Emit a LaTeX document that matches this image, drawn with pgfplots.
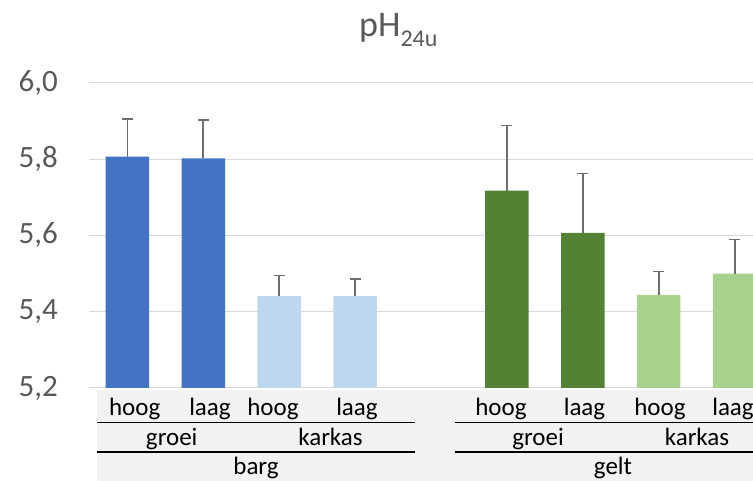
\documentclass[border=0pt]{standalone}
\usepackage{fontspec}
\setmainfont{Carlito}
\usepackage{pgfplots}
\usepackage{pgfplotstable}
\pgfplotsset{compat=1.18}
\definecolor{cBlue}{HTML}{4472C4}
\definecolor{cLBlue}{HTML}{BDD7EE}
\definecolor{cGreen}{HTML}{548235}
\definecolor{cLGreen}{HTML}{A9D18E}
\definecolor{gridgray}{HTML}{D9D9D9}
\definecolor{txtgray}{HTML}{595959}
\definecolor{errgray}{HTML}{6E6E6E}
\definecolor{bandgray}{HTML}{F2F2F2}
\pgfplotstableread{
x y e
0 5.807 0.099
1 5.802 0.101
}\bargGroei
\pgfplotstableread{
x y e
2 5.441 0.054
3 5.441 0.045
}\bargKarkas
\pgfplotstableread{
x y e
5 5.718 0.171
6 5.607 0.155
}\geltGroei
\pgfplotstableread{
x y e
7 5.444 0.062
8 5.500 0.090
}\geltKarkas
\pgfplotsset{errs/.style={error bars/.cd, y dir=plus, y explicit,
    error bar style={line width=1.8pt, draw=errgray, solid},
    error mark options={rotate=90, line width=1.5pt, draw=errgray, mark size=5.5pt}}}
\begin{document}
\begin{tikzpicture}[x=1pt,y=1pt]
\clip (0,0) rectangle (753,481);
\fill[bandgray] (97,0) rectangle (753,91);
\begin{axis}[
  at={(89.5pt,93pt)}, anchor=south west,
  scale only axis, width=663.5pt, height=305pt,
  xmin=-0.5, xmax=8.242, ymin=5.2, ymax=6.0,
  axis line style={draw=none},
  tick style={draw=none},
  xtick=\empty,
  ytick={5.2,5.4,5.6,5.8,6.0},
  ymajorgrids,
  grid style={draw=gridgray, line width=1pt},
  yticklabel style={/pgf/number format/.cd, use comma, fixed, fixed zerofill, precision=1, assume math mode=true, /tikz/.cd, anchor=east, inner sep=0pt, xshift=-31.5pt, text=txtgray, font=\fontsize{31}{37}\selectfont},
  every axis plot/.append style={ybar, bar width=43.5pt, bar shift=0pt, draw=none},
]
\addplot[fill=cBlue, errs] table[x=x, y=y, y error=e]{\bargGroei};
\addplot[fill=cLBlue, errs] table[x=x, y=y, y error=e]{\bargKarkas};
\addplot[fill=cGreen, errs] table[x=x, y=y, y error=e]{\geltGroei};
\addplot[fill=cLGreen, errs] table[x=x, y=y, y error=e]{\geltKarkas};
\end{axis}
% title
\node[anchor=base west, inner sep=0pt, text=txtgray, font=\fontsize{36}{43}\selectfont] at (359,444.3) {pH\raisebox{-10pt}{\fontsize{24}{28}\selectfont 24u}};
% category separator lines
\draw[black, line width=1.3pt] (97,58.7) -- (415,58.7);
\draw[black, line width=1.3pt] (455,58.7) -- (753,58.7);
\draw[black, line width=1.3pt] (97,29) -- (415,29);
\draw[black, line width=1.3pt] (455,29) -- (753,29);
\begin{scope}[every node/.style={anchor=base, inner sep=0pt, text=black, font=\fontsize{25}{30}\selectfont}]
\node at (134.7,65) {hoog};
\node at (210,65) {laag};
\node at (273,65) {hoog};
\node at (357,65) {laag};
\node at (501,65) {hoog};
\node at (584.5,65) {laag};
\node at (660,65) {hoog};
\node at (733,65) {laag};
\node at (171.7,35.3) {groei};
\node at (330.5,35.3) {karkas};
\node at (538,35.3) {groei};
\node at (697,35.3) {karkas};
\node at (256,6) {barg};
\node at (613,6) {gelt};
\end{scope}
\end{tikzpicture}
\end{document}
